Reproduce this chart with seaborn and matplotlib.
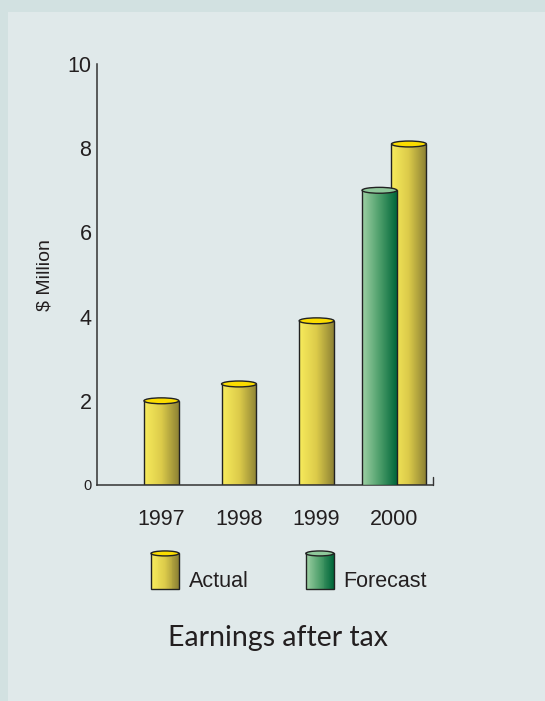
import numpy as np
import pandas as pd
import matplotlib
matplotlib.use("Agg")
import matplotlib.pyplot as plt
import seaborn as sns
from matplotlib.patches import Ellipse, Rectangle
from matplotlib.legend_handler import HandlerBase
from matplotlib.colors import LinearSegmentedColormap
from matplotlib.ticker import MultipleLocator

# data ($ million)
years = ["1997", "1998", "1999", "2000"]
actual = [2.0, 2.4, 3.9, 8.1]
forecast_years = ["2000"]
forecast = [7.0]
y_ticks = [0, 2, 4, 6, 8, 10]

sns.set_style("white")
plt.rcParams["font.family"] = ["Liberation Sans", "DejaVu Sans"]
plt.rcParams["text.color"] = "#231f20"

bg = "#e0e9ea"
strip = "#d2e1e1"
ink = "#231f20"
yellow_cmap = LinearSegmentedColormap.from_list("yel", ["#f8ec5c", "#dccb4a", "#8d8234"])
green_cmap = LinearSegmentedColormap.from_list("grn", ["#9fd1a5", "#4e9f6b", "#00663a"])
yellow_top = "#fbdc00"
green_top = "#8fc89b"

fig = plt.figure(figsize=(5.45, 7.01), dpi=100, facecolor=bg)
# darker strips along the top and left edges
fig.patches.append(Rectangle((0, 1 - 12 / 701), 1, 12 / 701, transform=fig.transFigure,
                             facecolor=strip, edgecolor="none", zorder=0))
fig.patches.append(Rectangle((0, 0), 8 / 545, 1, transform=fig.transFigure,
                             facecolor=strip, edgecolor="none", zorder=0))

ax = fig.add_axes([97 / 545, 1 - 485 / 701, 336 / 545, 421 / 701])
ax.set_facecolor("none")

df_a = pd.DataFrame({"Year": years, "Value": actual})
df_f = pd.DataFrame({"Year": forecast_years, "Value": forecast})

sns.barplot(data=df_a, x="Year", y="Value", order=years, width=0.45,
            color=yellow_top, ax=ax)
n_act = len(ax.patches)
sns.barplot(data=df_f, x="Year", y="Value", order=years, width=0.45,
            color=green_top, ax=ax)

act_bars = ax.patches[:n_act]
fc_bars = ax.patches[n_act:]

# in 2000 the forecast cylinder stands in front, slightly to the left
shift = 0.19
last = act_bars[years.index("2000")]
last.set_x(last.get_x() + shift)
for p in fc_bars:
    p.set_x(p.get_x() - shift)

grad = np.linspace(0, 1, 256).reshape(1, -1)
cap_h = 0.14


def cylinder(p, cmap, top, z):
    x, w, h = p.get_x(), p.get_width(), p.get_height()
    p.set_facecolor("none")
    p.set_edgecolor("#222222")
    p.set_linewidth(1.0)
    p.set_zorder(z + 0.1)
    im = ax.imshow(grad, cmap=cmap, extent=[x, x + w, 0, h], aspect="auto",
                   interpolation="bilinear", zorder=z)
    im.set_clip_path(p)
    ax.add_patch(Ellipse((x + w / 2, h), w, cap_h, facecolor=top,
                         edgecolor="#222222", lw=1.0, zorder=z + 0.2))


for p in act_bars:
    cylinder(p, yellow_cmap, yellow_top, 2)
for p in fc_bars:
    cylinder(p, green_cmap, green_top, 3)

ax.set_xlim(-0.83, 3.5)
ax.set_ylim(0, 10)
ax.set_xlabel("")
ax.set_ylabel("")

ax.set_yticks(y_ticks, labels=[str(v) for v in y_ticks])
ax.yaxis.set_minor_locator(MultipleLocator(1))
ax.tick_params(axis="y", which="both", direction="in", length=9, width=1,
               color="#333333", pad=4, labelcolor=ink, labelsize=15.5)
ax.yaxis.get_major_ticks()[0].label1.set_fontsize(10.5)

ax.set_xticks(range(len(years)), labels=years)
ax.tick_params(axis="x", which="major", length=0, labelsize=15.5, pad=17, labelcolor=ink)
# small upward tick closing the x axis on the right
ax.axvline(3.5, 0, 8 / 421, color="#333333", lw=1, clip_on=False)

sns.despine(ax=ax)
for s in ["left", "bottom"]:
    ax.spines[s].set_color("#333333")
    ax.spines[s].set_linewidth(1.1)

fig.text(45 / 545, 1 - 275 / 701, "$ Million", rotation=90, ha="center",
         va="center", fontsize=14)


class CylinderHandler(HandlerBase):
    def __init__(self, cmap, top):
        super().__init__()
        self.cmap = cmap
        self.top = top

    def create_artists(self, legend, orig_handle, xdescent, ydescent,
                       width, height, fontsize, trans):
        arts = []
        n = 30
        total = height + ydescent
        eh = total * 0.13
        body = total - eh / 2
        x0, y0 = -xdescent, -1.5
        for i in range(n):
            arts.append(Rectangle((x0 + width * i / n, y0), width / n + 0.4, body,
                                  facecolor=self.cmap(i / (n - 1)), edgecolor="none",
                                  transform=trans))
        arts.append(Rectangle((x0, y0), width, body, facecolor="none",
                              edgecolor="#222222", lw=1.0, transform=trans))
        arts.append(Ellipse((x0 + width / 2, y0 + body), width, eh, facecolor=self.top,
                            edgecolor="#222222", lw=1.0, transform=trans))
        return arts


h_act = Rectangle((0, 0), 1, 1)
h_fc = Rectangle((0, 0), 1, 1)
fig.legend(handles=[h_act, h_fc], labels=["Actual", "Forecast"],
           handler_map={h_act: CylinderHandler(yellow_cmap, yellow_top),
                        h_fc: CylinderHandler(green_cmap, green_top)},
           ncol=2, frameon=False, loc="upper left",
           bbox_to_anchor=(151 / 545, 1 - 565 / 701), bbox_transform=fig.transFigure,
           borderpad=0, borderaxespad=0, handlelength=1.30, handleheight=1.77,
           handletextpad=0.46, columnspacing=2.65,
           prop={"size": 15.5})

fig.text(278 / 545, 1 - 638 / 701, "Earnings after tax", ha="center", va="center",
         family=["Lato", "DejaVu Sans"], fontsize=20.5)

fig.savefig("out.png", dpi=100, facecolor=bg)
